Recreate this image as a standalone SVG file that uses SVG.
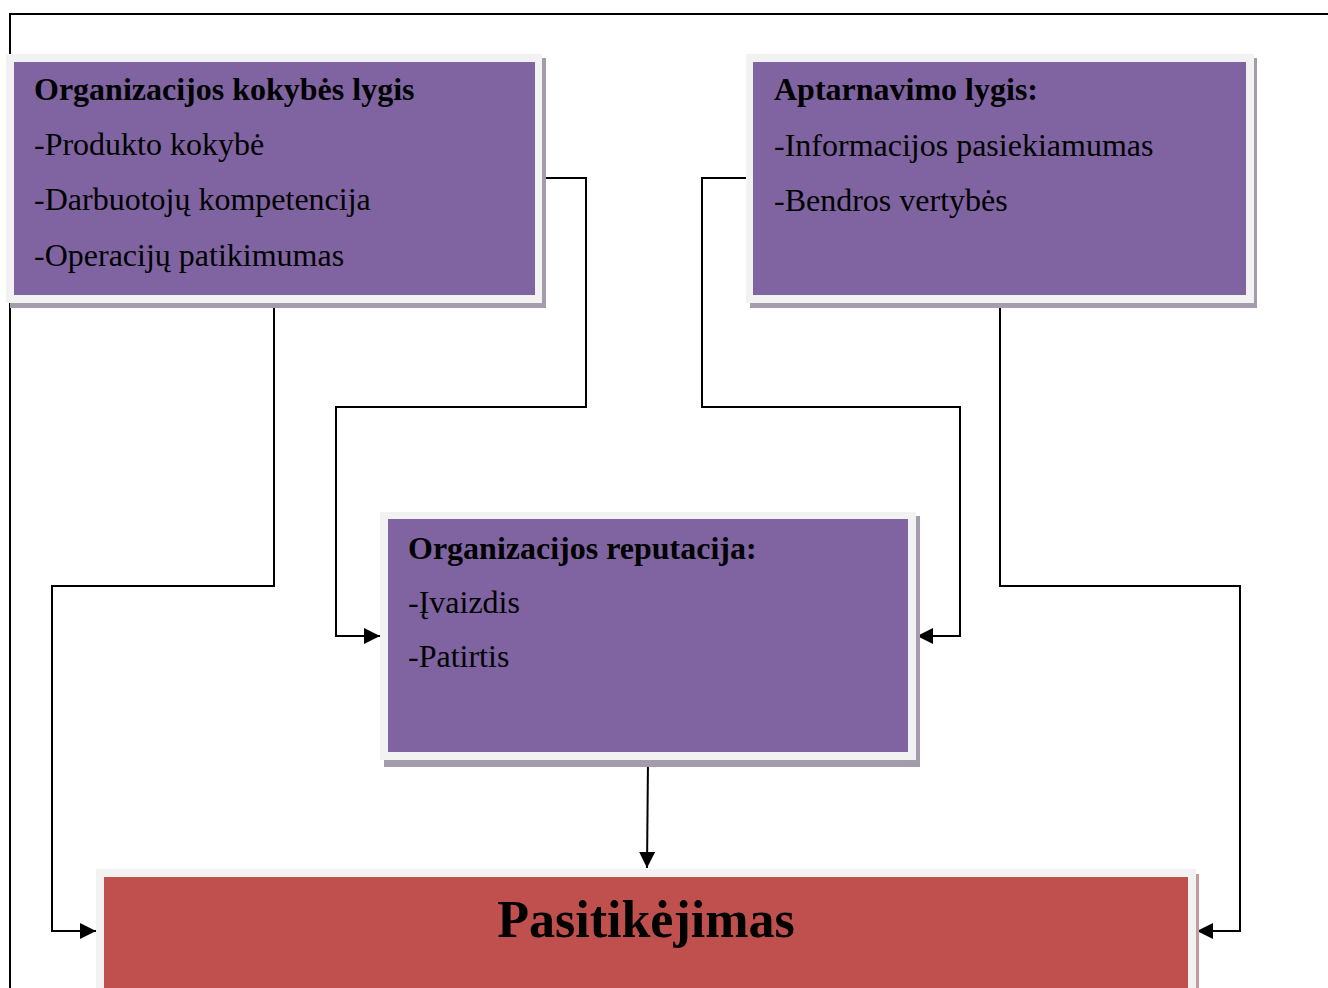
<svg xmlns="http://www.w3.org/2000/svg" width="1328" height="988" viewBox="0 0 1328 988">
<style>
.t{font-family:"Liberation Serif","Times New Roman",serif;font-size:32px;fill:#000}
.b{font-weight:bold}
.ln{fill:none;stroke:#000;stroke-width:2}
.frame{fill:#F2F2F2}
.shp{fill:#A49CAC}
.shr{fill:#C49A9A}
.pur{fill:#8064A2}
.red{fill:#C0504D}
</style>
<defs>
<marker id="ah" viewBox="0 0 16 16" refX="16" refY="8" markerWidth="16" markerHeight="16" markerUnits="userSpaceOnUse" orient="auto">
<path d="M0,0 L16,8 L0,16 Z" fill="#000"/>
</marker>
</defs>
<rect width="1328" height="988" fill="#fff"/>
<g id="connectors">
<path class="ln" d="M10,988 V14 H1328"/>
<path class="ln" d="M543,178 H586 V407 H336 V636 H380" marker-end="url(#ah)"/>
<path class="ln" d="M274,305 V586 H52 V931 H96" marker-end="url(#ah)"/>
<path class="ln" d="M746,178 H702 V407 H960 V636 H917" marker-end="url(#ah)"/>
<path class="ln" d="M1000,305 V586 H1240 V931 H1197" marker-end="url(#ah)"/>
<path class="ln" d="M648,760 L647,868" marker-end="url(#ah)"/>
</g>
<g id="node-kokybe">
<rect class="shp" x="10" y="58" width="536" height="250"/>
<rect class="frame" x="6" y="54" width="536" height="249"/>
<rect class="pur" x="14" y="62" width="521" height="233"/>
<text class="t b" x="34" y="100">Organizacijos kokybės lygis</text>
<text class="t" x="34" y="155">-Produkto kokybė</text>
<text class="t" x="34" y="210">-Darbuotojų kompetencija</text>
<text class="t" x="34" y="266">-Operacijų patikimumas</text>
</g>
<g id="node-aptarnavimas">
<rect class="shp" x="750" y="58" width="507" height="250"/>
<rect class="frame" x="746" y="54" width="508" height="249"/>
<rect class="pur" x="753" y="62" width="493" height="233"/>
<text class="t b" x="774" y="100">Aptarnavimo lygis:</text>
<text class="t" x="774" y="156">-Informacijos pasiekiamumas</text>
<text class="t" x="774" y="211">-Bendros vertybės</text>
</g>
<g id="node-reputacija">
<rect class="shp" x="384" y="516" width="536" height="251"/>
<rect class="frame" x="380" y="512" width="536" height="248"/>
<rect class="pur" x="388" y="519" width="520" height="233"/>
<text class="t b" x="408" y="559">Organizacijos reputacija:</text>
<text class="t" x="408" y="613">-Įvaizdis</text>
<text class="t" x="408" y="667">-Patirtis</text>
</g>
<g id="node-pasitikejimas">
<rect class="shr" x="100" y="874" width="1099" height="120"/>
<rect class="frame" x="96" y="869" width="1100" height="125"/>
<rect class="red" x="104" y="877" width="1084" height="111"/>
<text class="t b" x="646" y="937" text-anchor="middle" style="font-size:52px">Pasitikėjimas</text>
</g>
</svg>
